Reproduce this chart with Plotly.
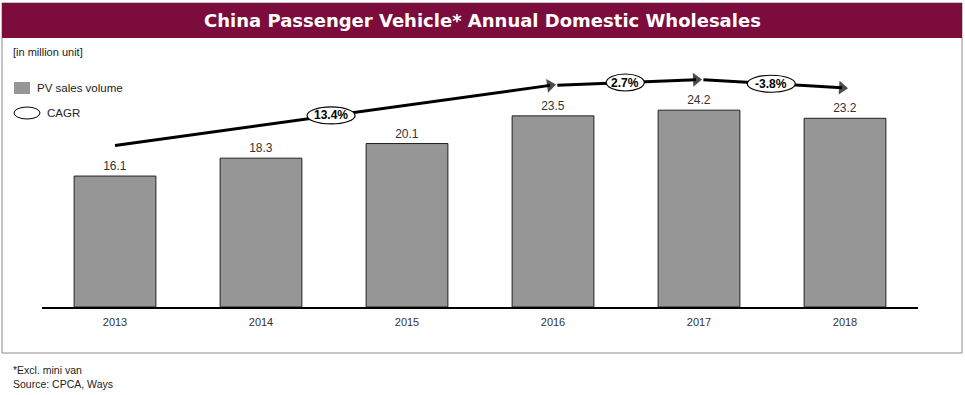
import plotly.graph_objects as go

years = ["2013", "2014", "2015", "2016", "2017", "2018"]
sales = [16.1, 18.3, 20.1, 23.5, 24.2, 23.2]
cagr_labels = ["13.4%", "2.7%", "-3.8%"]
cagr_from = [0, 3, 4]
cagr_to = [3, 4, 5]

ARROW_OFFSET = 3.75
FONT = "Liberation Sans, Arial, sans-serif"

fig = go.Figure()
fig.add_trace(go.Bar(
    x=list(range(len(years))), y=sales,
    marker=dict(color="#969696", line=dict(color="#222", width=1)),
    text=[f"{v:.1f}" for v in sales], textposition="outside",
    textfont=dict(family=FONT, size=12, color="#333"),
    cliponaxis=False, width=0.56, showlegend=False, hoverinfo="skip",
))

shapes = []
annotations = []
for lab, a, b in zip(cagr_labels, cagr_from, cagr_to):
    x0 = a + (0.0 if a == 0 else 0.03)
    x1 = b - 0.02
    y0 = sales[a] + ARROW_OFFSET
    y1 = sales[b] + ARROW_OFFSET
    fig.add_trace(go.Scatter(
        x=[x0, x1], y=[y0, y1], mode="lines+markers",
        line=dict(color="black", width=3),
        marker=dict(symbol="triangle-up", angleref="previous", size=[0, 12], color="black",
                    line=dict(width=0)),
        showlegend=False, hoverinfo="skip", cliponaxis=False,
    ))
    xm = (x0 + x1) / 2 - 0.01
    ym = (y0 + y1) / 2
    w = 24 if len(lab) >= 5 else 19
    shapes.append(dict(type="circle", xref="x", yref="y", xsizemode="pixel", ysizemode="pixel",
                       xanchor=xm, yanchor=ym, x0=-w, x1=w, y0=-8.5, y1=8.5,
                       fillcolor="white", line=dict(color="black", width=1.2), layer="above"))
    annotations.append(dict(x=xm, y=ym, xref="x", yref="y", text=f"<b>{lab}</b>", showarrow=False,
                            font=dict(family=FONT, size=12, color="black")))

L, T, PW, PH = 42, 63, 876, 244
def px(x):
    return (x - L) / PW
def py(y):
    return (T + PH - y) / PH

shapes.append(dict(type="rect", xref="paper", yref="paper", x0=px(2), x1=px(962), y0=py(3), y1=py(353),
                   line=dict(color="#8c8c8c", width=1), fillcolor="rgba(0,0,0,0)", layer="below"))
shapes.append(dict(type="rect", xref="paper", yref="paper", x0=px(2), x1=px(962), y0=py(3), y1=py(38),
                   line=dict(width=0), fillcolor="#7b0c3c", layer="below"))
shapes.append(dict(type="rect", xref="paper", yref="paper", x0=px(14), x1=px(30), y0=py(82), y1=py(94),
                   line=dict(color="#969696", width=0), fillcolor="#969696"))
shapes.append(dict(type="circle", xref="paper", yref="paper", x0=px(14), x1=px(40), y0=py(107), y1=py(119),
                   line=dict(color="black", width=1), fillcolor="white"))

annotations += [
    dict(x=px(482), y=py(21), xref="paper", yref="paper", text="<b>China Passenger Vehicle* Annual Domestic Wholesales</b>",
         showarrow=False, font=dict(family="DejaVu Sans, sans-serif", size=18, color="white"), xanchor="center", yanchor="middle"),
    dict(x=px(11), y=py(52), xref="paper", yref="paper", text="[in million unit]", showarrow=False,
         font=dict(family=FONT, size=11, color="#222"), xanchor="left", yanchor="middle"),
    dict(x=px(35), y=py(88), xref="paper", yref="paper", text="PV sales volume", showarrow=False,
         font=dict(family=FONT, size=11.5, color="#222"), xanchor="left", yanchor="middle"),
    dict(x=px(45), y=py(113), xref="paper", yref="paper", text="CAGR", showarrow=False,
         font=dict(family=FONT, size=11.5, color="#222"), xanchor="left", yanchor="middle"),
    dict(x=px(11), y=py(370), xref="paper", yref="paper", text="*Excl. mini van", showarrow=False,
         font=dict(family=FONT, size=10.5, color="#222"), xanchor="left", yanchor="middle"),
    dict(x=px(11), y=py(384), xref="paper", yref="paper", text="Source: CPCA, Ways", showarrow=False,
         font=dict(family=FONT, size=10.5, color="#222"), xanchor="left", yanchor="middle"),
]

fig.update_layout(
    width=965, height=395, margin=dict(l=L, r=965 - L - PW, t=T, b=395 - T - PH),
    paper_bgcolor="white", plot_bgcolor="white",
    shapes=shapes, annotations=annotations, showlegend=False,
    xaxis=dict(tickmode="array", tickvals=list(range(len(years))), ticktext=years, range=[-0.5, 5.5],
               showline=True, linecolor="black", linewidth=1.5, showgrid=False, zeroline=False,
               ticks="", ticklabelstandoff=4, tickfont=dict(family=FONT, size=11, color="#333")),
    yaxis=dict(range=[0, 30], visible=False),
)
fig.write_html("out.html", config={"displayModeBar": False},
               post_script="document.body.style.margin='0';document.body.style.overflow='hidden';")
